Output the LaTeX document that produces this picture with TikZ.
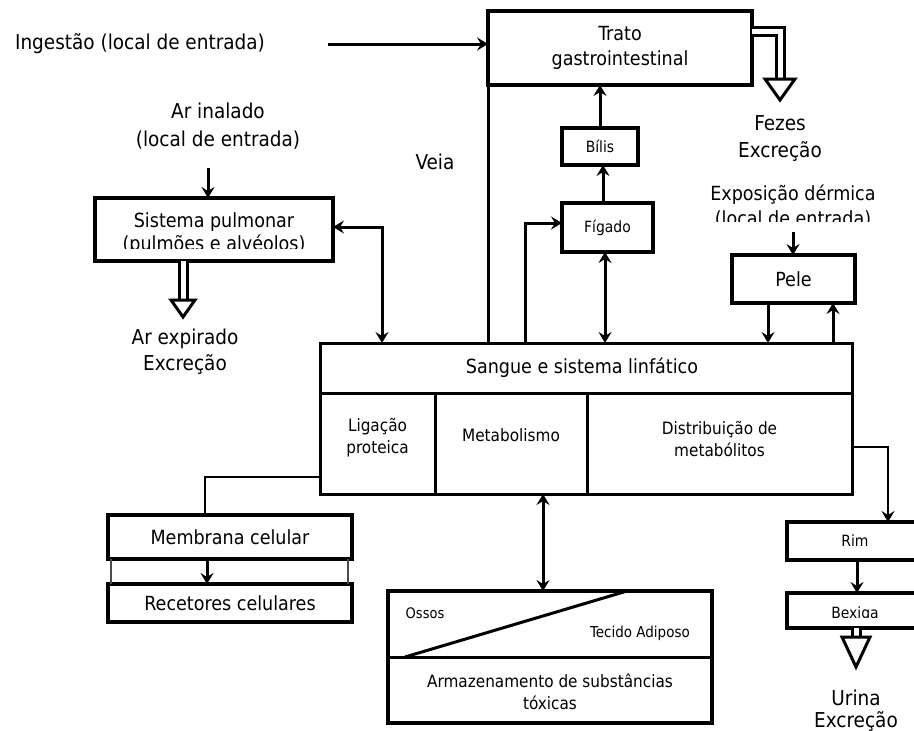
\documentclass[tikz,border=0pt]{standalone}
\usepackage{fontspec}
\setmainfont{DejaVu Sans Condensed}
\usetikzlibrary{arrows.meta}

\newcommand\lblsize{\fontsize{20.5}{27}\selectfont}
\newcommand\boxsize{\fontsize{19.5}{25}\selectfont}
\newcommand\cellsize{\fontsize{17}{22}\selectfont}
\newcommand\smallsize{\fontsize{15.5}{18}\selectfont}

\begin{document}
\begin{tikzpicture}[x=1pt,y=-1pt,
  >={Stealth[length=11pt,width=13pt,inset=4pt]},
  box/.style={draw, line width=3.5pt, inner sep=0pt, outer sep=0pt, align=center, fill=white, font=\boxsize},
  lbl/.style={inner sep=0pt, align=center, font=\lblsize},
  txt/.style={inner sep=0pt, align=center, font=\boxsize},
  cell/.style={inner sep=0pt, align=center, font=\cellsize},
  small/.style={inner sep=0pt, align=center, font=\smallsize},
  conn/.style={line width=3pt, ->},
  link/.style={line width=2.5pt},
  hollow/.style={line width=3pt, double=white, double distance=5pt, line join=miter},
  headtri/.style={line width=3pt, fill=white, line join=miter},
  thin/.style={line width=1.5pt, black!70}]

\useasboundingbox (0,0) rectangle (914,731);

% ---- gastrointestinal branch ----
\node[lbl] (ingest) at (140,44) {Ingestão (local de entrada)};
\coordinate (ingestend) at (328,44);
\node[box, minimum width=264, minimum height=74] (trato) at (620,48) {Trato\\gastrointestinal};
\node[lbl] (fezes) at (780,138.5) {Fezes\\Excreção};
\node[lbl] (veia) at (435,162) {Veia};
\node[box, font=\smallsize, minimum width=76, minimum height=37] (bilis) at (600,146.5) {Bílis};
\node[box, font=\smallsize, minimum width=91, minimum height=49] (figado) at (607.5,227.5) {Fígado};

% ---- skin ----
\node[txt] (expo) at (793,195) {Exposição dérmica};
\begin{scope}
  \clip (680,206) rectangle (910,221);
  \node[txt] (expo2) at (793,219) {(local de entrada)};
\end{scope}
\coordinate (expoarr) at (793,232);
\node[box, minimum width=123, minimum height=48] (pele) at (793.5,279) {Pele};

% ---- lungs ----
\node[lbl, font=\fontsize{20.5}{28}\selectfont] (inalado) at (218,126) {Ar inalado\\(local de entrada)};
\coordinate (inalarr) at (208,168);
\node[box, minimum width=238, minimum height=63] (pulm) at (214,229.5) {};
\node[txt] (pulmtxt) at (214,222) {Sistema pulmonar};
\begin{scope}
  \clip (100,232) rectangle (330,248);
  \node[txt] (pulmtxt2) at (214,245) {(pulmões e alvéolos)};
\end{scope}
\node[lbl, font=\fontsize{20.5}{26}\selectfont] (expirado) at (185,352) {Ar expirado\\Excreção};

% ---- blood and lymph ----
\node[draw, line width=3pt, inner sep=0pt, outer sep=0pt, minimum width=532, minimum height=151] (sangue) at (586,418.5) {};
\draw[line width=3pt] (sangue.west |- 0,393) -- (sangue.east |- 0,393);
\draw[line width=3pt] (435,393) -- (sangue.south -| 435,0);
\draw[line width=3pt] (587,393) -- (sangue.south -| 587,0);
\node[txt] (sangtxt) at (582,368) {Sangue e sistema linfático};
\node[cell] (ligacao) at (377.5,438) {Ligação\\proteica};
\node[cell] (metab) at (511,435) {Metabolismo};
\node[cell] (distrib) at (719.5,439) {Distribuição de\\metabólitos};

% ---- cells ----
\node[box, minimum width=244, minimum height=44] (membrana) at (230,537) {Membrana celular};
\node[box, minimum width=244, minimum height=38] (recetores) at (230,603) {Recetores celulares};
\draw[thin] (membrana.south -| 111,0) -- (recetores.north -| 111,0);
\draw[thin] (membrana.south -| 348,0) -- (recetores.north -| 348,0);

% ---- storage ----
\node[box, minimum width=324, minimum height=132] (store) at (550,657) {};
\draw[line width=3pt] (store.west |- 0,657) -- (store.east |- 0,657);
\draw[line width=3pt] (405,657) -- (store.north -| 627,0);
\node[small, font=\fontsize{14.5}{17}\selectfont] (ossos) at (425,613) {Ossos};
\node[small, font=\fontsize{15}{17}\selectfont] (adiposo) at (640,633) {Tecido Adiposo};
\node[cell] (armaz) at (550,691.5) {Armazenamento de substâncias\\tóxicas};

% ---- kidney ----
\node[box, font=\smallsize, minimum width=136, minimum height=38] (rim) at (855,541) {Rim};
\node[box, minimum width=136, minimum height=35] (bexiga) at (855,610.5) {};
\begin{scope}
  \clip (790,597) rectangle (920,617);
  \node[small] (bexigatxt) at (855,614) {Bexiga};
\end{scope}
\node[lbl, font=\fontsize{20.5}{22}\selectfont] (urina) at (856,711) {Urina\\Excreção};

% ---- connectors ----
\draw[conn] (ingestend) -- (trato.west |- ingestend);
\draw[line width=3pt] (sangue.north -| trato.west) -- (trato.south west);
\draw[conn] (bilis.north) -- (trato.south -| bilis.north);
\draw[conn] (figado.north -| 603,0) -- (bilis.south -| 603,0);
\draw[conn, <->] (figado.south -| 605,0) -- (sangue.north -| 605,0);
\draw[conn] (sangue.north -| 525,0) |- (figado.west |- 0,223);
\draw[conn] (expoarr) -- (pele.north -| expoarr);
\draw[conn] (pele.south -| 768,0) -- (sangue.north -| 768,0);
\draw[conn] (sangue.north -| 833,0) -- (pele.south -| 833,0);
\draw[conn] (inalarr) -- (pulm.north -| inalarr);
\draw[conn, <->] (pulm.east |- 0,227) -| (sangue.north -| 382,0);
\draw[link] (sangue.west |- 0,477) -| (membrana.north -| 205,0);
\draw[conn] (membrana.south -| 207,0) -- (recetores.north -| 207,0);
\draw[conn, <->] (sangue.south -| 543,0) -- (store.north -| 543,0);
\draw[conn, line width=2.5pt] (sangue.east |- 0,447) -| (rim.north -| 888,0);
\draw[conn] (rim.south -| 857,0) -- (bexiga.north -| 857,0);

% ---- hollow excretion arrows ----
\coordinate (fezcorner) at (780,31.5);
\coordinate (fezhead) at (780,79);
\draw[hollow] (trato.east |- fezcorner) -- (fezcorner) -- (fezhead);
\draw[headtri] (765,79) -- (795,79) -- (780,100) -- cycle;

\coordinate (exphead) at (183,300);
\draw[hollow] (pulm.south -| exphead) -- (exphead);
\draw[headtri] (171,300) -- (195,300) -- (183,317) -- cycle;

\coordinate (urhead) at (856,637);
\draw[hollow] (bexiga.south -| urhead) -- (urhead);
\draw[headtri] (842,637) -- (870,637) -- (856,667) -- cycle;
\end{tikzpicture}
\end{document}
